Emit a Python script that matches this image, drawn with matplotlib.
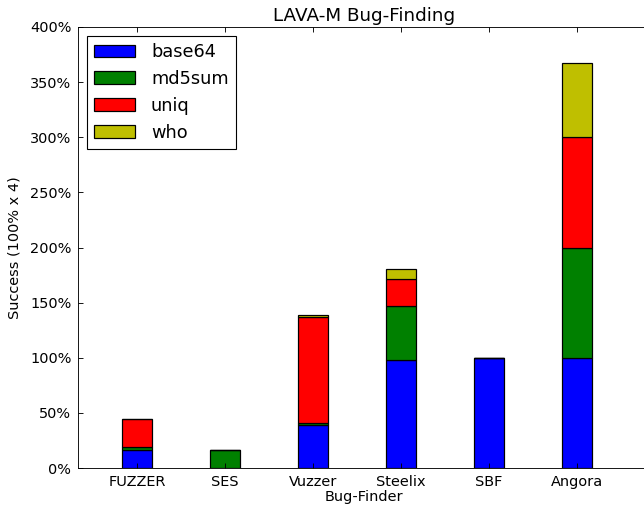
import matplotlib
matplotlib.use("Agg")
import matplotlib.pyplot as plt
import matplotlib.ticker as ticker
import numpy as np

# ---------------------------------------------------------------------------
# Data (percent of bugs found per LAVA-M program)
# ---------------------------------------------------------------------------
finders = ["FUZZER", "SES", "Vuzzer", "Steelix", "SBF", "Angora"]
programs = ["base64", "md5sum", "uniq", "who"]
base64 = [16.0, 0.0, 38.6, 97.7, 100.0, 100.0]
md5sum = [3.0, 16.0, 1.8, 49.1, 0.0, 100.0]
uniq = [25.0, 0.0, 96.4, 25.0, 0.0, 100.0]
who = [0.0, 0.0, 2.3, 9.1, 0.0, 67.0]

COLORS = ["#0000FF", "#008000", "#FF0000", "#BFBF00"]

fig = plt.figure(figsize=(644 / 80, 507 / 80), dpi=80)
ax = fig.add_axes([78 / 644, 39 / 507, 572 / 644, 441 / 507])

ind = np.arange(len(finders))
width = 0.35
bottom = np.zeros(len(finders))
for name, vals, col in zip(programs, [base64, md5sum, uniq, who], COLORS):
    vals = np.array(vals)
    ax.bar(ind, vals, width, bottom=bottom, color=col, edgecolor="black",
           linewidth=1.1, label=name)
    bottom += vals

ax.set_xlim(-0.67, 5.83)
ax.set_ylim(0, 400)
ax.set_xticks(ind)
ax.set_xticklabels(finders)
ax.set_yticks(np.arange(0, 401, 50))
ax.yaxis.set_major_formatter(ticker.FuncFormatter(lambda v, p: "%d%%" % v))

ax.tick_params(direction="in", top=True, right=True, length=4.5,
               labelsize=13, pad=6)
ax.set_xlabel("Bug-Finder", fontsize=13, labelpad=1)
ax.set_ylabel("Success (100% x 4)", fontsize=13, labelpad=8)
ax.set_title("LAVA-M Bug-Finding", fontsize=16.5, pad=5)

leg = ax.legend(loc="upper left", fontsize=16, fancybox=False,
                framealpha=1.0, edgecolor="black", handlelength=2.3,
                handletextpad=0.9, borderaxespad=0.5)
leg.get_frame().set_linewidth(1.0)

fig.savefig("out.png", dpi=80)
